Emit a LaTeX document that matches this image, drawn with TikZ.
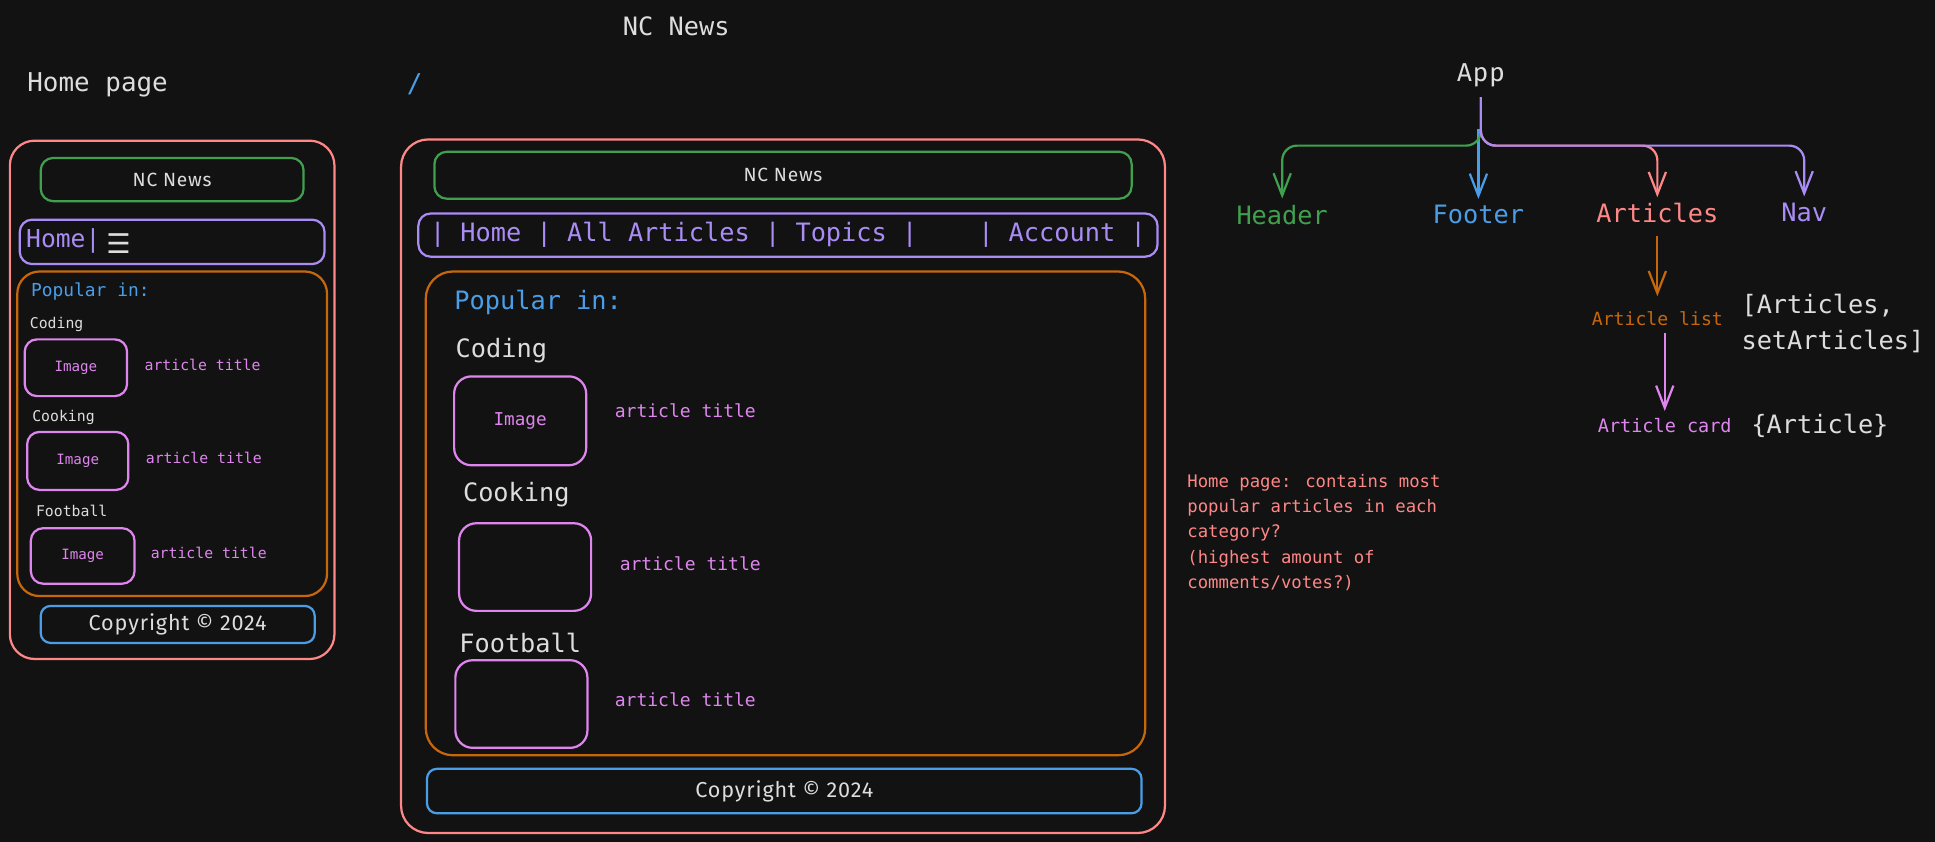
\documentclass[tikz,border=0pt]{standalone}
\usepackage{fontspec}
\newfontfamily\monof{DejaVu Sans Mono}
\newfontfamily\handf[LetterSpace=4]{Fira Sans}
\newfontfamily\symf{DejaVu Sans}
\usetikzlibrary{arrows.meta}
\definecolor{bg}{HTML}{121212}
\definecolor{fg}{HTML}{DDDDDD}
\definecolor{cred}{HTML}{FF8787}
\definecolor{cgreen}{HTML}{40A04E}
\definecolor{cpurple}{HTML}{AA8CF5}
\definecolor{corange}{HTML}{C7670C}
\definecolor{cblue}{HTML}{4A9EE8}
\definecolor{cviolet}{HTML}{DE86EE}
\tikzset{
  box/.style={draw, line width=1.8pt, rounded corners=10pt, inner sep=0pt},
  mono/.style={font={\monof\fontsize{#1pt}{#1pt}\selectfont}},
  hand/.style={font={\handf\fontsize{#1pt}{#1pt}\selectfont}},
  txt/.style={inner sep=0pt, text=fg},
  conn/.style={line width=1.8pt, rounded corners=12pt, shorten >=5pt, shorten <=6pt,
    -{Straight Barb[length=18pt,width=14pt]}},
}
\begin{document}
\begin{tikzpicture}[x=1pt,y=-1pt]
\fill[bg] (0,0) rectangle (1568,682.3);
\useasboundingbox (0,0) rectangle (1568,682.3);

% top labels
\node[txt, mono=20.5] (title) at (548,21) {NC News};
\node[txt, mono=21, anchor=west] (homepage) at (22,69) {Home page};
\node[txt, mono=21, text=cblue] (slash) at (336,68) {/};

% ---------------- left (mobile) wireframe
\node[box, draw=cred, rounded corners=20pt, minimum width=263pt, minimum height=420pt] (lphone) at (139.5,324) {};
\node[box, draw=cgreen, minimum width=213pt, minimum height=35pt, text=fg, hand=15.5] (lhead) at (139.5,145.5) {NC News};
\node[box, draw=cpurple, minimum width=247pt, minimum height=36pt] (lnav) at (139.5,196) {};
\node[txt, text=cpurple, mono=20, anchor=west] (lhome) at (21,195) {Home|};
\node[txt, font={\symf\fontsize{22pt}{22pt}\selectfont}] (lburger) at (96,197) {☰};
\node[box, draw=corange, rounded corners=18pt, minimum width=251pt, minimum height=263pt] (lpop) at (139.5,351.5) {};
\node[txt, text=cblue, mono=14.5, anchor=west] (lpoptxt) at (25,236) {Popular in:};
\node[txt, mono=12, anchor=west] (lcoding) at (24,263) {Coding};
\node[box, draw=cviolet, minimum width=83pt, minimum height=46pt, text=cviolet, mono=11.5] (limg1) at (61.5,298) {Image};
\node[txt, text=cviolet, mono=12, anchor=west] (ltit1) at (117,296) {article title};
\node[txt, mono=12, anchor=west] (lcooking) at (26,338) {Cooking};
\node[box, draw=cviolet, minimum width=82pt, minimum height=47pt, text=cviolet, mono=11.5] (limg2) at (63,373.5) {Image};
\node[txt, text=cviolet, mono=12, anchor=west] (ltit2) at (118,371) {article title};
\node[txt, mono=12, anchor=west] (lfootball) at (29,414) {Football};
\node[box, draw=cviolet, minimum width=84pt, minimum height=45pt, text=cviolet, mono=11.5] (limg3) at (67,450.5) {Image};
\node[txt, text=cviolet, mono=12, anchor=west] (ltit3) at (122,448) {article title};
\node[box, draw=cblue, rounded corners=8pt, minimum width=222pt, minimum height=30pt, text=fg, hand=17.5] (lfoot) at (144,506) {Copyright © 2024};

% ---------------- middle (desktop) wireframe
\node[box, draw=cred, rounded corners=22pt, minimum width=619pt, minimum height=562pt] (mphone) at (634.5,394) {};
\node[box, draw=cgreen, minimum width=565pt, minimum height=38pt, text=fg, hand=15.5] (mhead) at (634.5,142) {NC News};
\node[box, draw=cpurple, minimum width=599pt, minimum height=35pt, text=cpurple, mono=20.5] (mnav) at (638.5,190.5) {| Home | All Articles | Topics |\ \ \ \ | Account |};
\node[box, draw=corange, rounded corners=22pt, minimum width=583pt, minimum height=392pt] (mpop) at (636.5,416) {};
\node[txt, text=cblue, mono=20.5, anchor=west] (mpoptxt) at (368,245) {Popular in:};
\node[txt, mono=20.5, anchor=west] (mcoding) at (369,284) {Coding};
\node[box, draw=cviolet, rounded corners=14pt, minimum width=107pt, minimum height=72pt, text=cviolet, mono=14.3] (mimg1) at (421.5,341) {Image};
\node[txt, text=cviolet, mono=14.6, anchor=west] (mtit1) at (498,333) {article title};
\node[txt, mono=20.5, anchor=west] (mcooking) at (375,401) {Cooking};
\node[box, draw=cviolet, rounded corners=14pt, minimum width=107pt, minimum height=71pt] (mimg2) at (425.5,459.5) {};
\node[txt, text=cviolet, mono=14.6, anchor=west] (mtit2) at (502,457) {article title};
\node[txt, mono=20.5, anchor=west] (mfootball) at (372,521) {Football};
\node[box, draw=cviolet, rounded corners=14pt, minimum width=107pt, minimum height=71pt] (mimg3) at (422.5,570.5) {};
\node[txt, text=cviolet, mono=14.6, anchor=west] (mtit3) at (498,567) {article title};
\node[box, draw=cblue, rounded corners=8pt, minimum width=579pt, minimum height=36pt, text=fg, hand=17.5] (mfoot) at (635.5,641) {Copyright © 2024};

% ---------------- component tree
\node[txt, hand=21] (app) at (1200,61) {App};
\node[txt, text=cgreen, mono=20.5] (header) at (1039,174) {Header};
\node[txt, text=cblue, mono=20.5] (footer) at (1198,174) {Footer};
\node[txt, text=cred, mono=20.5] (articles) at (1343,173) {Articles};
\node[txt, text=cpurple, mono=20.5] (nav) at (1462,172) {Nav};
\node[txt, text=corange, mono=14.7] (artlist) at (1343,258) {Article list};
\node[txt, text=cviolet, mono=15] (artcard) at (1349,345) {Article card};
\node[txt, anchor=north west, align=left, font={\monof\fontsize{20.5pt}{29pt}\selectfont}] (state) at (1411,238) {[Articles,\\setArticles]};
\node[txt, mono=20.5, anchor=west] (props) at (1419,345) {\{Article\}};
\coordinate (bus) at (1200,118);

\draw[conn, cblue, shorten <=34pt] (footer.north |- app.south) -- (footer.north);
\draw[conn, cgreen, shorten <=8pt] (app.south) -- (bus) -| (header.north);
\draw[conn, cred, shorten <=8pt] (app.south) -- (bus) -| (articles.north);
\draw[conn, cpurple, shorten <=8pt] (app.south) -- (bus) -| (nav.north);
\draw[conn, corange, shorten <=10pt, shorten >=12pt] (articles.south) -- (artlist.north);
\draw[conn, cviolet, shorten <=6pt, shorten >=6pt] (artcard.north |- artlist.south) -- (artcard.north);

% note
\node[txt, text=cred, anchor=north west, align=left, font={\monof\fontsize{14pt}{20.5pt}\selectfont}] (note) at (962,384)
  {Home page: contains most\\popular articles in each\\category?\\(highest amount of\\comments/votes?)};
\end{tikzpicture}
\end{document}
